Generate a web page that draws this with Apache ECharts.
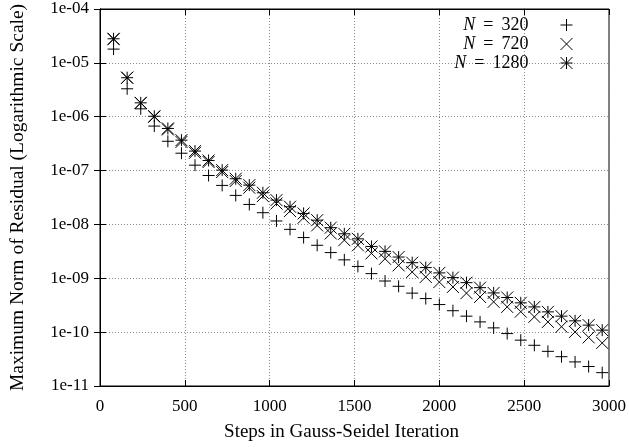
<!DOCTYPE html>
<html>
<head>
<meta charset="utf-8">
<title>Gauss-Seidel residual</title>
<script src="https://cdn.jsdelivr.net/npm/echarts@6/dist/echarts.min.js"></script>
<style>
    html, body { margin: 0; padding: 0; background: #fff; }
    #residualChart { width: 629px; height: 447px; }
</style>
</head>
<body>
<div id="residualChart"></div>
<script>
// steps (x) shared by all three runs
var steps = [80, 160, 240, 320, 400, 480, 560, 640, 720, 800, 880, 960, 1040, 1120, 1200, 1280,
    1360, 1440, 1520, 1600, 1680, 1760, 1840, 1920, 2000, 2080, 2160, 2240, 2320, 2400, 2480,
    2560, 2640, 2720, 2800, 2880, 2960];

var resN320 = [1.8e-5, 3.3e-6, 1.4e-6, 6.7e-7, 3.5e-7, 2.1e-7, 1.26e-7, 8.1e-8, 5.3e-8, 3.46e-8,
    2.35e-8, 1.65e-8, 1.16e-8, 8.1e-9, 5.7e-9, 4.1e-9, 3.0e-9, 2.2e-9, 1.66e-9, 1.22e-9, 8.9e-10,
    7.1e-10, 5.3e-10, 4.2e-10, 3.25e-10, 2.5e-10, 1.98e-10, 1.55e-10, 1.2e-10, 9.4e-11, 7.1e-11,
    5.7e-11, 4.4e-11, 3.5e-11, 2.8e-11, 2.3e-11, 1.77e-11];

var resN720 = [2.75e-5, 5.3e-6, 1.8e-6, 1.0e-6, 5.8e-7, 3.4e-7, 2.14e-7, 1.44e-7, 9.4e-8, 6.4e-8,
    4.8e-8, 3.36e-8, 2.45e-8, 1.77e-8, 1.33e-8, 9.6e-9, 6.8e-9, 5.1e-9, 4.1e-9, 2.9e-9, 2.3e-9,
    1.74e-9, 1.31e-9, 1.06e-9, 8.5e-10, 6.9e-10, 5.3e-10, 4.5e-10, 3.65e-10, 2.94e-10, 2.4e-10,
    1.92e-10, 1.55e-10, 1.26e-10, 1.01e-10, 8.0e-11, 6.3e-11];

var resN1280 = [2.8e-5, 5.3e-6, 1.81e-6, 1.02e-6, 6.05e-7, 3.67e-7, 2.3e-7, 1.54e-7, 1.02e-7, 7.05e-8,
    5.37e-8, 3.87e-8, 2.83e-8, 2.13e-8, 1.6e-8, 1.2e-8, 8.7e-9, 6.7e-9, 5.4e-9, 3.9e-9, 3.16e-9,
    2.48e-9, 1.95e-9, 1.58e-9, 1.26e-9, 1.03e-9, 8.3e-10, 6.7e-10, 5.35e-10, 4.4e-10, 3.5e-10,
    2.94e-10, 2.38e-10, 1.98e-10, 1.62e-10, 1.35e-10, 1.09e-10];

var seriesNames = ['N = 320', 'N = 720', 'N = 1280'];

var FONT = '"Liberation Serif", "DejaVu Serif", serif';

// gnuplot style point types: plus, cross, star
var plusPath = 'path://M0,5L10,5M5,0L5,10';
var crossPath = 'path://M0,0L10,10M10,0L0,10';
var starPath = 'path://M0,5L10,5M5,0L5,10M0,0L10,10M10,0L0,10';

function pairs(xs, ys) {
    var out = [];
    for (var i = 0; i < xs.length; i++) {
        out.push([xs[i], ys[i]]);
    }
    return out;
}

function expLabel(v) {
    var e = Math.round(Math.log(v) / Math.LN10);
    var s = String(Math.abs(e));
    if (s.length < 2) s = '0' + s;
    return '1e' + (e < 0 ? '-' : '+') + s;
}

function pointSeries(name, path, values) {
    return {
        name: name,
        type: 'scatter',
        symbol: path,
        symbolSize: 12,
        itemStyle: { color: 'transparent', borderColor: '#000', borderWidth: 1, opacity: 1 },
        emphasis: { disabled: true },
        data: pairs(steps, values)
    };
}

var tickStyle = { show: true, inside: true, length: 6, lineStyle: { color: '#000', width: 1 } };
var gridLine = { show: true, lineStyle: { color: '#888', type: [1, 2], width: 1 } };

var option = {
    animation: false,
    backgroundColor: '#fff',
    textStyle: { fontFamily: FONT },
    grid: {
        left: 99, right: 19, top: 9, bottom: 61,
        show: true, borderColor: '#000', borderWidth: 1
    },
    legend: {
        data: seriesNames,
        orient: 'vertical',
        align: 'right',
        right: 56,
        top: 16,
        padding: 0,
        itemGap: 1,
        itemWidth: 12,
        itemHeight: 12,
        itemStyle: { color: 'transparent', borderColor: '#000', borderWidth: 1 },
        formatter: function (name) {
            return '{i|N}{g|}={g|}' + name.split('= ')[1] + '{s|}';
        },
        textStyle: {
            fontFamily: FONT, fontSize: 18, color: '#000', lineHeight: 17,
            rich: {
                i: { fontFamily: FONT, fontSize: 18, fontStyle: 'italic', color: '#000' },
                g: { width: 8 },
                s: { width: 27 }
            }
        }
    },
    xAxis: [{
        type: 'value',
        min: 0, max: 3000, interval: 500,
        name: 'Steps in Gauss-Seidel Iteration',
        nameLocation: 'middle',
        nameGap: 37,
        nameTextStyle: { fontFamily: FONT, fontSize: 19, color: '#000', padding: [0, 26, 0, 0] },
        axisLine: { show: true, lineStyle: { color: '#000' } },
        axisTick: tickStyle,
        axisLabel: {
            fontFamily: FONT, fontSize: 17, color: '#000', margin: 12,
            formatter: function (v) { return String(v); }
        },
        splitLine: gridLine
    }, {
        type: 'value', position: 'top',
        min: 0, max: 3000, interval: 500,
        axisLine: { show: true, lineStyle: { color: '#000' } },
        axisTick: tickStyle,
        axisLabel: { show: false },
        splitLine: { show: false }
    }],
    yAxis: [{
        type: 'log', logBase: 10,
        min: 1e-11, max: 1e-4, interval: 1,
        name: 'Maximum Norm of Residual (Logarithmic Scale)',
        nameLocation: 'middle',
        nameGap: 72,
        nameTextStyle: { fontFamily: FONT, fontSize: 19.5, color: '#000' },
        axisLine: { show: true, lineStyle: { color: '#000' } },
        axisTick: tickStyle,
        axisLabel: { fontFamily: FONT, fontSize: 17, color: '#000', margin: 11, formatter: expLabel },
        splitLine: gridLine
    }, {
        type: 'log', logBase: 10, position: 'right',
        min: 1e-11, max: 1e-4, interval: 1,
        axisLine: { show: true, lineStyle: { color: '#000' } },
        axisTick: tickStyle,
        axisLabel: { show: false },
        splitLine: { show: false }
    }],
    series: [
        pointSeries(seriesNames[0], plusPath, resN320),
        pointSeries(seriesNames[1], crossPath, resN720),
        pointSeries(seriesNames[2], starPath, resN1280)
    ]
};

var chart = echarts.init(document.getElementById('residualChart'));
chart.setOption(option);
</script>
</body>
</html>
